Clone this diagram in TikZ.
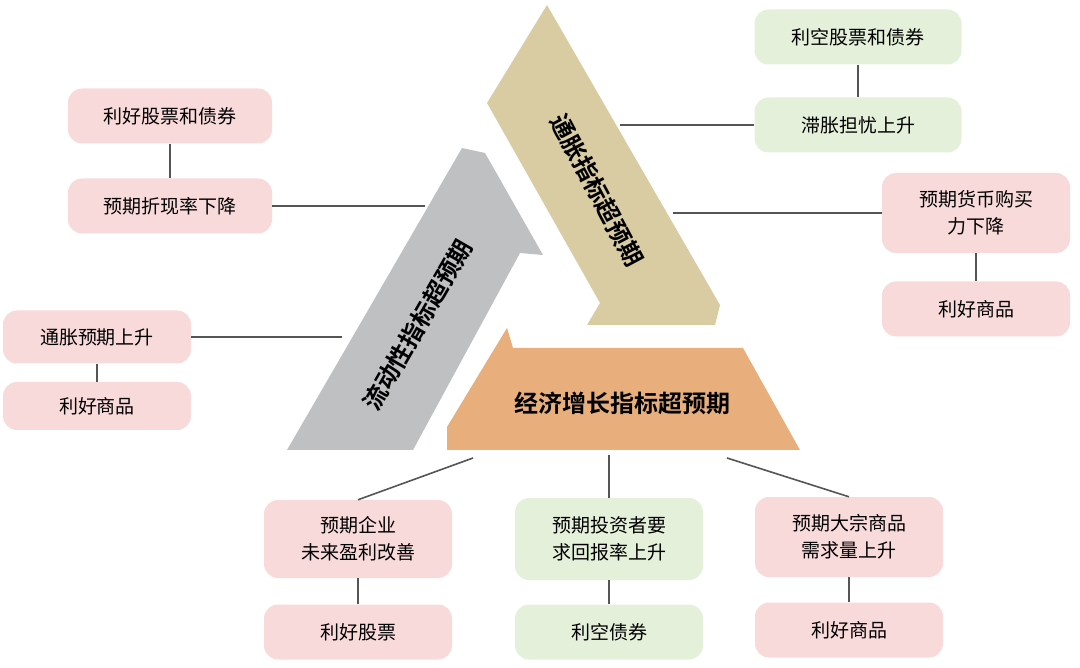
\documentclass[tikz,border=0pt]{standalone}
\usepackage{fontspec}
\newfontfamily\cjk{Noto Sans CJK SC}
\newfontfamily\cjkb{Noto Sans CJK SC Bold}
\definecolor{pinkb}{HTML}{F9DADA}
\definecolor{greenb}{HTML}{E4F0DA}
\definecolor{tanc}{HTML}{D9CCA3}
\definecolor{grayc}{HTML}{BFC0C2}
\definecolor{orc}{HTML}{E8AE7B}
\definecolor{lnc}{HTML}{555555}
\tikzset{
 bx/.style={rounded corners=14pt,minimum width=188pt,minimum height=55pt,align=center,font=\cjk\fontsize{19}{27}\selectfont,inner sep=2pt},
 pk/.style={bx,fill=pinkb},
 gr/.style={bx,fill=greenb},
 ln/.style={draw=lnc,line width=1.6pt},
 big/.style={font=\cjkb\fontsize{24}{27}\selectfont,inner sep=0pt}
}
\begin{document}
\begin{tikzpicture}[x=1pt,y=-1pt]
\useasboundingbox (0,0) rectangle (1080,668);
% arrows
\fill[grayc] (287,450)--(462,148)--(485,153)--(543,255)--(520,253)--(413,450)--cycle;
\fill[tanc] (547,5)--(720,305)--(715,325)--(587,325)--(600,303)--(487,103)--cycle;
\fill[orc] (507,328)--(513,348)--(743,348)--(800,450)--(447,450)--(447,427)--cycle;
\node[big,rotate=60] (gl) at (418,325) {流动性指标超预期};
\node[big,rotate=-62] (tl) at (597,190) {通胀指标超预期};
\node[big] (ol) at (622,403) {经济增长指标超预期};
% boxes
\node[gr,minimum width=207pt] (a1) at (858,37) {利空股票和债券};
\node[gr,minimum width=207pt] (a2) at (858,125) {滞胀担忧上升};
\node[pk,minimum width=204pt] (b1) at (170,116) {利好股票和债券};
\node[pk,minimum width=204pt] (b2) at (170,206) {预期折现率下降};
\node[pk,minimum height=80pt] (c1) at (976,213) {预期货币购买\\力下降};
\node[pk] (c2) at (976,309) {利好商品};
\node[pk,minimum height=53pt] (d1) at (97,337) {通胀预期上升};
\node[pk,minimum height=48pt] (d2) at (97,406) {利好商品};
\node[pk,minimum height=78pt] (e1) at (358,539) {预期企业\\未来盈利改善};
\node[pk] (e2) at (358,632) {利好股票};
\node[gr,minimum height=82pt] (f1) at (609,539) {预期投资者要\\求回报率上升};
\node[gr] (f2) at (609,632) {利空债券};
\node[pk,minimum height=80pt] (g1) at (849,537) {预期大宗商品\\需求量上升};
\node[pk] (g2) at (849,630) {利好商品};
% connectors
\coordinate (ta) at (620,125);
\coordinate (tb) at (673,213);
\coordinate (ga) at (425,206);
\coordinate (gb) at (342,337);
\coordinate (oa) at (473,458);
\coordinate (ob) at (609,455);
\coordinate (oc) at (727,458);
\draw[ln] (a1)--(a2); \draw[ln] (a2)--(ta);
\draw[ln] (b1)--(b2); \draw[ln] (b2)--(ga);
\draw[ln] (c1)--(c2); \draw[ln] (c1.west|-tb)--(tb);
\draw[ln] (d1)--(d2); \draw[ln] (d1)--(gb);
\draw[ln] (e1)--(e2); \draw[ln] (e1.north)--(oa);
\draw[ln] (f1)--(f2); \draw[ln] (f1.north)--(ob);
\draw[ln] (g1)--(g2); \draw[ln] (g1.north)--(oc);
\end{tikzpicture}
\end{document}
